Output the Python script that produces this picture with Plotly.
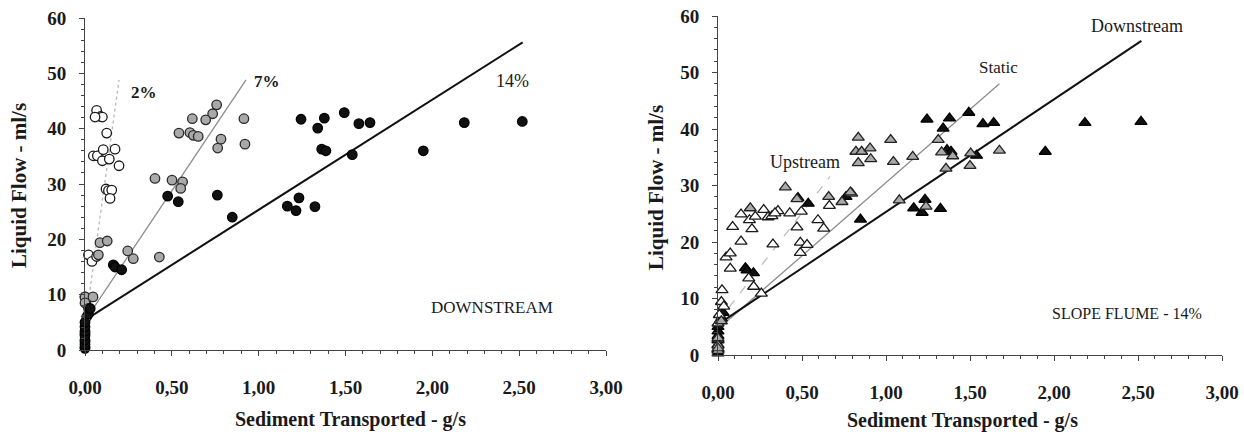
import plotly.graph_objects as go

# ---------------- data ----------------
# Left panel: DOWNSTREAM, three flume slopes
slope2_x = [0.067, 0.09, 0.10, 0.058, 0.125, 0.048, 0.071, 0.105, 0.10, 0.14, 0.173, 0.196,
            0.121, 0.135, 0.154, 0.144, 0.02, 0.04, 0.067, 0.0, 0.005, 0.0, 0.0, 0.0, 0.01]
slope2_y = [43.3, 42.2, 42.1, 42.1, 39.2, 35.1, 35.1, 36.2, 34.2, 34.5, 36.3, 33.3,
            29.1, 28.8, 28.9, 27.4, 17.2, 16.0, 16.9, 9.6, 8.6, 3.0, 1.5, 0.5, 6.0]

slope7_x = [0.758, 0.735, 0.618, 0.695, 0.915, 0.541, 0.604, 0.624, 0.652, 0.783, 0.764, 0.921,
            0.403, 0.501, 0.562, 0.551, 0.278, 0.246, 0.428, 0.086, 0.128, 0.0, 0.046, 0.0,
            0.02, 0.077]
slope7_y = [44.3, 42.7, 41.8, 41.6, 41.8, 39.2, 39.3, 38.8, 38.6, 38.1, 36.5, 37.2,
            31.0, 30.7, 30.4, 29.2, 16.5, 17.9, 16.8, 19.4, 19.7, 9.6, 9.6, 8.5,
            7.5, 17.2]

slope14_x = [1.244, 1.378, 1.34, 1.493, 1.577, 1.641, 1.363, 1.387, 1.539, 1.948, 2.184, 2.518,
             1.232, 1.165, 1.215, 1.324, 0.476, 0.537, 0.762, 0.848, 0.163, 0.173, 0.211,
             0.0, 0.0, 0.0, 0.0, 0.0, 0.0, 0.0, 0.02, 0.03]
slope14_y = [41.7, 41.9, 40.1, 42.9, 40.9, 41.1, 36.3, 36.0, 35.3, 36.0, 41.1, 41.3,
             27.5, 26.0, 25.2, 25.9, 27.8, 26.8, 28.0, 24.0, 15.4, 15.0, 14.5,
             0.3, 1.0, 1.8, 2.6, 3.4, 4.2, 5.0, 6.5, 7.5]

# trend lines (end points)
line2_x, line2_y = [0.005, 0.196], [5.5, 48.8]
line7_x, line7_y = [0.0, 0.927], [5.3, 48.8]
line14_x, line14_y = [0.029, 2.52], [6.0, 55.6]

# Right panel: SLOPE FLUME - 14%, three positions
upstream_x = [0.087, 0.137, 0.187, 0.202, 0.222, 0.272, 0.298, 0.321, 0.357, 0.427, 0.47, 0.496,
              0.595, 0.629, 0.663, 0.137, 0.327, 0.49, 0.53, 0.49, 0.048, 0.073, 0.073, 0.183,
              0.212, 0.258, 0.024, 0.02, 0.034, 0.0, 0.008, 0.0, 0.0, 0.0, 0.339]
upstream_y = [22.7, 24.9, 23.9, 22.3, 24.5, 25.7, 24.4, 24.6, 25.5, 25.1, 22.6, 25.4,
              23.9, 22.4, 26.4, 20.1, 19.6, 19.9, 19.5, 18.1, 17.3, 18.0, 15.3, 13.6,
              12.1, 10.9, 11.5, 9.4, 8.6, 5.6, 7.1, 2.8, 1.7, 0.8, 25.1]

static_x = [0.835, 1.028, 0.821, 0.855, 0.905, 0.909, 0.835, 1.044, 1.159, 1.311, 1.331, 1.397,
            1.504, 1.5, 1.357, 1.675, 1.079, 1.238, 0.796, 0.401, 0.47, 0.659, 0.788, 0.738,
            0.192, 0.0, 0.0, 0.02]
static_y = [38.5, 38.1, 36.0, 36.0, 36.6, 34.7, 34.0, 34.2, 35.1, 38.1, 35.9, 35.2,
            35.7, 33.5, 33.0, 36.2, 27.4, 26.3, 28.6, 29.7, 27.6, 28.0, 28.8, 27.1,
            26.0, 3.0, 1.2, 6.0]

downstream_x = slope14_x
downstream_y = slope14_y

up_line_x, up_line_y = [0.0, 0.667], [5.9, 31.6]
static_line_x, static_line_y = [0.0, 1.675], [4.6, 48.0]
down_line_x, down_line_y = line14_x, line14_y

x_tickvals = [0, 0.5, 1, 1.5, 2, 2.5, 3]
x_ticktext = ["0,00", "0,50", "1,00", "1,50", "2,00", "2,50", "3,00"]
y_tickvals = [0, 10, 20, 30, 40, 50, 60]

# ---------------- figure ----------------
W, H = 1244, 432
SERIF = "Liberation Serif, Times New Roman, serif"
fig = go.Figure()

def mk(sym, fill, edge, size=9.5, lw=1.3):
    return dict(symbol=sym, size=size, color=fill, line=dict(color=edge, width=lw))

# left lines
fig.add_trace(go.Scatter(x=line2_x, y=line2_y, mode="lines", xaxis="x", yaxis="y",
                         line=dict(color="#b8b8b8", width=1.3, dash="dot"), showlegend=False))
fig.add_trace(go.Scatter(x=line7_x, y=line7_y, mode="lines", xaxis="x", yaxis="y",
                         line=dict(color="#8c8c8c", width=1.3), showlegend=False))
fig.add_trace(go.Scatter(x=line14_x, y=line14_y, mode="lines", xaxis="x", yaxis="y",
                         line=dict(color="#111111", width=2), showlegend=False))
# left points
fig.add_trace(go.Scatter(x=slope2_x, y=slope2_y, mode="markers", xaxis="x", yaxis="y",
                         marker=mk("circle", "#ffffff", "#1a1a1a"), cliponaxis=False, showlegend=False))
fig.add_trace(go.Scatter(x=slope7_x, y=slope7_y, mode="markers", xaxis="x", yaxis="y",
                         marker=mk("circle", "#a9a9a9", "#2a2a2a"), cliponaxis=False, showlegend=False))
fig.add_trace(go.Scatter(x=slope14_x, y=slope14_y, mode="markers", xaxis="x", yaxis="y",
                         marker=mk("circle", "#111111", "#000000"), cliponaxis=False, showlegend=False))

# right lines
fig.add_trace(go.Scatter(x=up_line_x, y=up_line_y, mode="lines", xaxis="x2", yaxis="y2",
                         line=dict(color="#bdbdbd", width=1.3, dash="dash"), showlegend=False))
fig.add_trace(go.Scatter(x=static_line_x, y=static_line_y, mode="lines", xaxis="x2", yaxis="y2",
                         line=dict(color="#8c8c8c", width=1.3), showlegend=False))
fig.add_trace(go.Scatter(x=down_line_x, y=down_line_y, mode="lines", xaxis="x2", yaxis="y2",
                         line=dict(color="#111111", width=2), showlegend=False))
# right points
fig.add_trace(go.Scatter(x=downstream_x, y=downstream_y, mode="markers", xaxis="x2", yaxis="y2",
                         marker=mk("triangle-up", "#111111", "#000000", size=10.5), cliponaxis=False, showlegend=False))
fig.add_trace(go.Scatter(x=upstream_x, y=upstream_y, mode="markers", xaxis="x2", yaxis="y2",
                         marker=mk("triangle-up", "#ffffff", "#1a1a1a", size=10.5), cliponaxis=False, showlegend=False))
fig.add_trace(go.Scatter(x=static_x, y=static_y, mode="markers", xaxis="x2", yaxis="y2",
                         marker=mk("triangle-up", "#a9a9a9", "#222222", size=10.5), cliponaxis=False, showlegend=False))

tickfont = dict(family=SERIF, size=19, color="#1a1a1a", weight="bold")
axline = dict(showline=True, linecolor="#444444", linewidth=1, showgrid=False, zeroline=False,
              ticks="outside", tickcolor="#444444", ticklen=5, tickfont=tickfont, automargin=False)

def xax(dom):
    d = dict(axline)
    d.update(domain=dom, range=[0, 3], tickvals=x_tickvals, ticktext=x_ticktext,
             ticklabelstandoff=15, minor=dict(dtick=0.1, ticks="outside", ticklen=3, tickcolor="#444444"))
    return d

def yax(dom, anchor):
    d = dict(axline)
    d.update(domain=dom, range=[0, 60], tickvals=y_tickvals, anchor=anchor,
             ticklabelstandoff=9, minor=dict(dtick=2, ticks="outside", ticklen=3, tickcolor="#444444"))
    return d

fig.update_layout(
    width=W, height=H, margin=dict(l=0, r=0, t=0, b=0),
    paper_bgcolor="white", plot_bgcolor="white",
    font=dict(family=SERIF, color="#1a1a1a"),
    xaxis=dict(xax([85 / W, 606 / W]), anchor="y"),
    yaxis=yax([1 - 350 / H, 1 - 18 / H], "x"),
    xaxis2=dict(xax([718 / W, 1222 / W]), anchor="y2"),
    yaxis2=yax([1 - 355 / H, 1 - 16 / H], "x2"),
)

def ann(text, x, y, xref, yref, size, bold=False, angle=0):
    t = f"<b>{text}</b>" if bold else text
    fig.add_annotation(text=t, x=x, y=y, xref=xref, yref=yref, showarrow=False,
                       textangle=angle, font=dict(family=SERIF, size=size, color="#1a1a1a"),
                       xanchor="center", yanchor="middle")

# axis titles (paper coordinates from pixel positions)
ann("Liquid Flow - ml/s", 19 / W, 1 - 186 / H, "paper", "paper", 21, True, -90)
ann("Liquid Flow - ml/s", 656 / W, 1 - 187 / H, "paper", "paper", 21, True, -90)
ann("Sediment Transported - g/s", 350 / W, 1 - 419 / H, "paper", "paper", 20, True)
ann("Sediment Transported - g/s", 962 / W, 1 - 420 / H, "paper", "paper", 20, True)

# in-plot labels (data coordinates)
ann("2%", 0.34, 46.5, "x", "y", 17, True)
ann("7%", 1.048, 48.5, "x", "y", 17, True)
ann("14%", 2.464, 48.6, "x", "y", 18)
ann("DOWNSTREAM", 2.343, 7.6, "x", "y", 17)
ann("Upstream", 0.518, 34.2, "x2", "y2", 18)
ann("Static", 1.667, 50.8, "x2", "y2", 17)
ann("Downstream", 2.494, 58.2, "x2", "y2", 18)
ann("SLOPE FLUME - 14%", 2.435, 7.4, "x2", "y2", 16)

fig.write_html("out.html")
